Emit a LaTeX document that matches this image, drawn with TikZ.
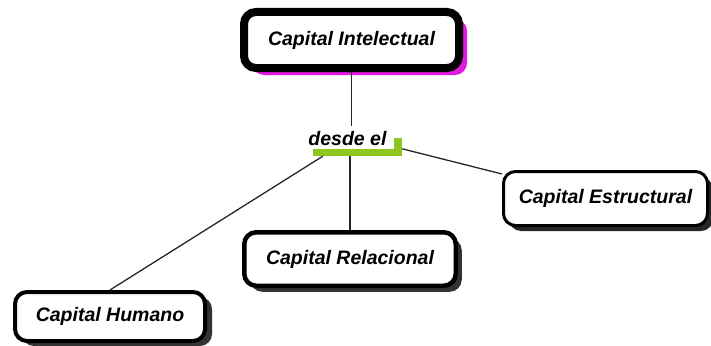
\documentclass[tikz,border=0pt]{standalone}
\usepackage{fontspec}
\setmainfont{Liberation Sans}
\usetikzlibrary{shadows,calc}
\definecolor{barGreen}{RGB}{141,198,31}
\definecolor{shadowPink}{RGB}{225,25,225}
\begin{document}
\begin{tikzpicture}[x=1pt,y=-1pt,
  lbl/.style={font=\fontsize{19.5}{23}\selectfont\bfseries\itshape},
  concept/.style={lbl, draw=black, fill=white, rounded corners=12pt,
    inner sep=0pt},
  conn/.style={draw=black!85, line width=1.3pt}]
\useasboundingbox (0,0) rectangle (711,345);

% concepts
\node[concept, line width=8pt, minimum width=215pt, minimum height=56pt,
  drop shadow={shadow xshift=8pt, shadow yshift=-7pt, fill=shadowPink, opacity=1}]
  (intel) at (351.5,40) {Capital Intelectual};
\node[concept, line width=3pt, minimum width=204pt, minimum height=54pt,
  drop shadow={shadow xshift=5.5pt, shadow yshift=-5.5pt, fill=black!85, opacity=1}]
  (estr) at (605.5,198.5) {Capital Estructural};
\node[concept, line width=4.5pt, minimum width=211.5pt, minimum height=53.5pt,
  drop shadow={shadow xshift=6pt, shadow yshift=-6pt, fill=black!80, opacity=1}]
  (relac) at (350,259) {Capital Relacional};
\node[concept, line width=4pt, minimum width=190pt, minimum height=49pt,
  drop shadow={shadow xshift=7pt, shadow yshift=-5pt, fill=black!80, opacity=1}]
  (human) at (110,316.5) {Capital Humano};

% linking phrase with its green underline
\node[lbl, inner sep=5pt, anchor=base] (desde) at (347.5,145) {desde el};
\node[fill=barGreen, inner sep=0pt, minimum width=89pt, minimum height=7pt]
  (bar) at (357.5,152.5) {};
\node[fill=barGreen, inner sep=0pt, minimum width=8pt, minimum height=18pt]
  (tick) at (398,147) {};

% connectors
\draw[conn] (intel.south) -- (intel.south |- desde.north);
\draw[conn] (bar.south -| relac.north) -- (relac.north);
\draw[conn] ($(bar.south west)+(10,0)$) -- (human.north);
\draw[conn] (bar.north east) -- ($(estr.north west)+(0,4)$);
\end{tikzpicture}
\end{document}
